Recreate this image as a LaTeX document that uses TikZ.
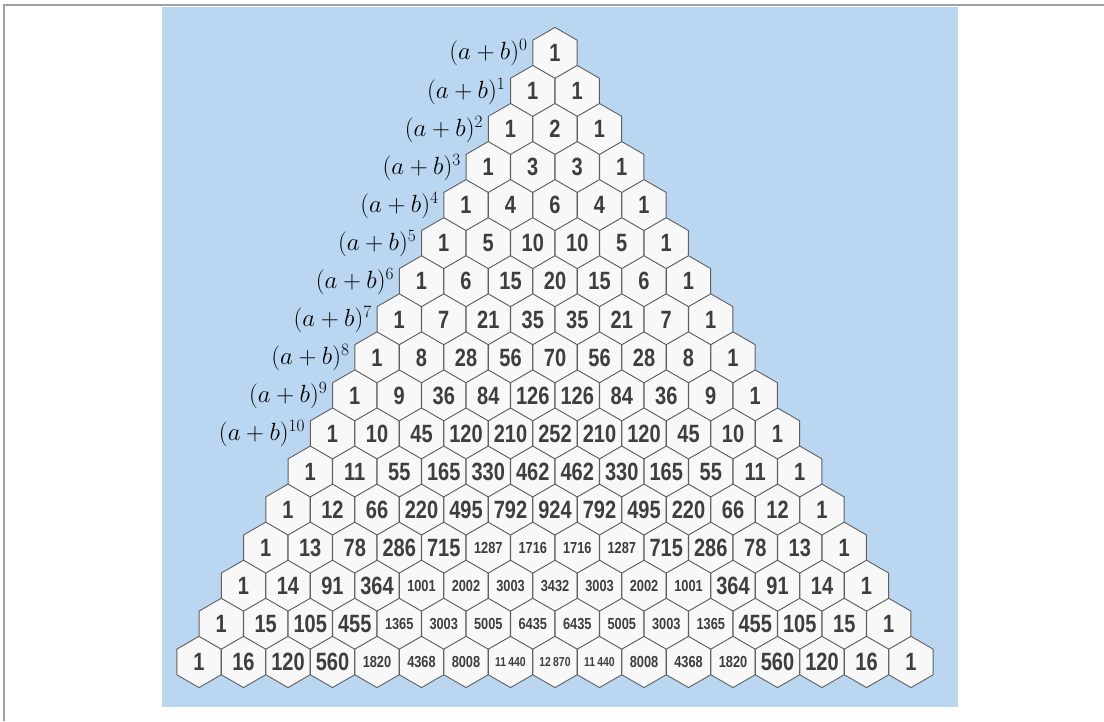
\documentclass[tikz,border=0pt]{standalone}
\usepackage{amsmath}
\usepackage{fontspec}
\usetikzlibrary{calc}
\newfontfamily\numfont[FakeStretch=0.8]{Liberation Sans}
\definecolor{skyBG}{RGB}{186,214,241}
\definecolor{frameGray}{RGB}{160,160,160}
\definecolor{cellFill}{RGB}{248,248,248}
\definecolor{cellLine}{RGB}{95,95,95}
\definecolor{digitGray}{RGB}{62,62,62}
\def\splitfive#1#2#3#4#5\relax{#1#2\,#3#4#5}

\begin{document}
\begin{tikzpicture}[
    x=1pt,y=-1pt,
    hexcell/.style={fill=cellFill,draw=cellLine,line width=0.9pt,line join=round},
    num/.style={font=\numfont\bfseries,text=digitGray,inner sep=0pt},
    lbl/.style={font=\fontsize{25}{27}\selectfont,text=black,anchor=east,inner sep=0pt}
  ]
  \useasboundingbox (0,0) rectangle (1104,721);
  % frame and backdrop
  \draw[frameGray,line width=2pt] (4,721) -- (4,5) -- (1104,5);
  \fill[skyBG] (162,7) rectangle (958,707);

  \def\hr{25.6}
  \foreach \n in {0,...,16}{
    \xdef\cval{1}
    \foreach \k in {0,...,\n}{
      \pgfmathsetmacro\hx{555+(\k-\n/2)*44.5}
      \pgfmathsetmacro\hy{53+\n*38.06}
      \draw[hexcell] (\hx,\hy) +(90:\hr) -- +(150:\hr) -- +(210:\hr)
        -- +(270:\hr) -- +(330:\hr) -- +(30:\hr) -- cycle;
      \ifnum\cval>9999
        \node[num] (c-\n-\k) at (\hx,\hy)
          {\fontsize{13}{13}\selectfont\expandafter\splitfive\cval\relax};
      \else\ifnum\cval>999
        \node[num] (c-\n-\k) at (\hx,\hy) {\fontsize{16}{16}\selectfont\cval};
      \else
        \node[num] (c-\n-\k) at (\hx,\hy) {\fontsize{25}{25}\selectfont\cval};
      \fi\fi
      \xdef\cval{\the\numexpr\cval*(\n-\k)/(\k+1)\relax}
    }
  }

  % row labels
  \foreach \n in {0,...,10}{
    \node[lbl] (lbl-\n) at ({555-\n*22.25-22.25-5},{53+\n*38.06}) {$(a+b)^{\n}$};
  }
\end{tikzpicture}
\end{document}
